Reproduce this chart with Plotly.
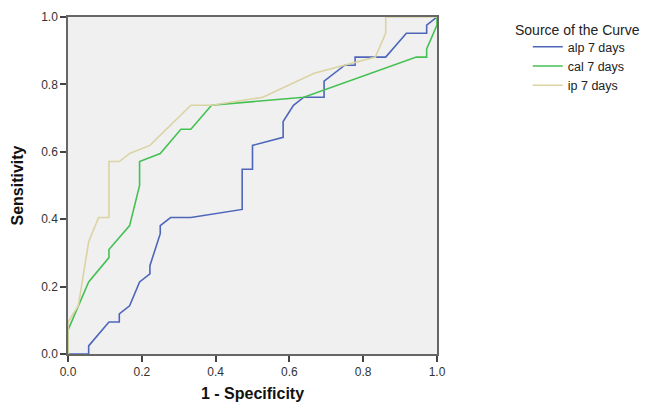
import plotly.graph_objects as go

# ROC curve points (1 - Specificity, Sensitivity)
alp_fpr = [0.0, 0.056, 0.056, 0.111, 0.139, 0.139, 0.167, 0.194, 0.222, 0.222, 0.250, 0.250, 0.278, 0.333,
           0.472, 0.472, 0.500, 0.500, 0.583, 0.583, 0.611, 0.639, 0.694, 0.694, 0.750, 0.778, 0.778,
           0.861, 0.917, 0.972, 0.972, 1.0]
alp_tpr = [0.0, 0.0, 0.024, 0.095, 0.095, 0.119, 0.143, 0.214, 0.238, 0.262, 0.357, 0.381, 0.405, 0.405,
           0.429, 0.548, 0.548, 0.619, 0.643, 0.690, 0.738, 0.762, 0.762, 0.810, 0.857, 0.857, 0.881,
           0.881, 0.952, 0.952, 0.976, 1.0]

cal_fpr = [0.0, 0.0, 0.056, 0.111, 0.111, 0.167, 0.194, 0.194, 0.250, 0.306, 0.333, 0.389, 0.639,
           0.944, 0.972, 0.972, 1.0, 1.0]
cal_tpr = [0.0, 0.071, 0.214, 0.286, 0.310, 0.381, 0.500, 0.571, 0.595, 0.667, 0.667, 0.738, 0.762,
           0.881, 0.881, 0.905, 0.976, 1.0]

ip_fpr = [0.0, 0.0, 0.028, 0.056, 0.083, 0.111, 0.111, 0.139, 0.167, 0.222, 0.333, 0.389, 0.528,
          0.667, 0.833, 0.861, 0.861, 1.0]
ip_tpr = [0.0, 0.095, 0.143, 0.333, 0.405, 0.405, 0.571, 0.571, 0.595, 0.619, 0.738, 0.738, 0.762,
          0.833, 0.881, 0.952, 1.0, 1.0]

series_names = ["alp 7 days", "cal 7 days", "ip 7 days"]
colors = ["#4E66BA", "#45C153", "#DAD3A4"]
tick_vals = [0.0, 0.2, 0.4, 0.6, 0.8, 1.0]

fig = go.Figure()
for name, xs, ys, c in zip(series_names, [alp_fpr, cal_fpr, ip_fpr], [alp_tpr, cal_tpr, ip_tpr], colors):
    fig.add_trace(go.Scatter(x=xs, y=ys, mode="lines", name=name,
                             line=dict(color=c, width=1.6)))

axis_common = dict(
    range=[0, 1], tickvals=tick_vals, tickformat=".1f", showgrid=False, zeroline=False,
    showline=True, linecolor="#666666", linewidth=1.5, mirror=True,
    ticks="outside", ticklen=6, tickcolor="#444444", tickwidth=1.5,
    tickfont=dict(family="Liberation Sans, Arial, sans-serif", size=12, color="#333333"),
)

fig.update_layout(
    width=651, height=404,
    margin=dict(l=60, r=222, t=9, b=58, autoexpand=False),
    paper_bgcolor="white", plot_bgcolor="#F0F0F0",
    font=dict(family="Liberation Sans, Arial, sans-serif", color="#222222"),
    xaxis=dict(**axis_common, title=dict(text="<b>1 - Specificity</b>", font=dict(size=16, color="#111111"), standoff=10)),
    yaxis=dict(**axis_common, title=dict(text="<b>Sensitivity</b>", font=dict(size=16, color="#111111"), standoff=14)),
    showlegend=True,
    legend=dict(x=1.246, y=0.955, xanchor="left", yanchor="top",
                font=dict(size=12.5, color="#222222"), tracegroupgap=0,
                itemwidth=30, bgcolor="rgba(0,0,0,0)"),
    annotations=[dict(text="Source of the Curve", xref="paper", yref="paper", x=1.205, y=0.99,
                      xanchor="left", yanchor="top", showarrow=False,
                      font=dict(size=14, color="#222222"))],
)

fig.write_html("out.html")
